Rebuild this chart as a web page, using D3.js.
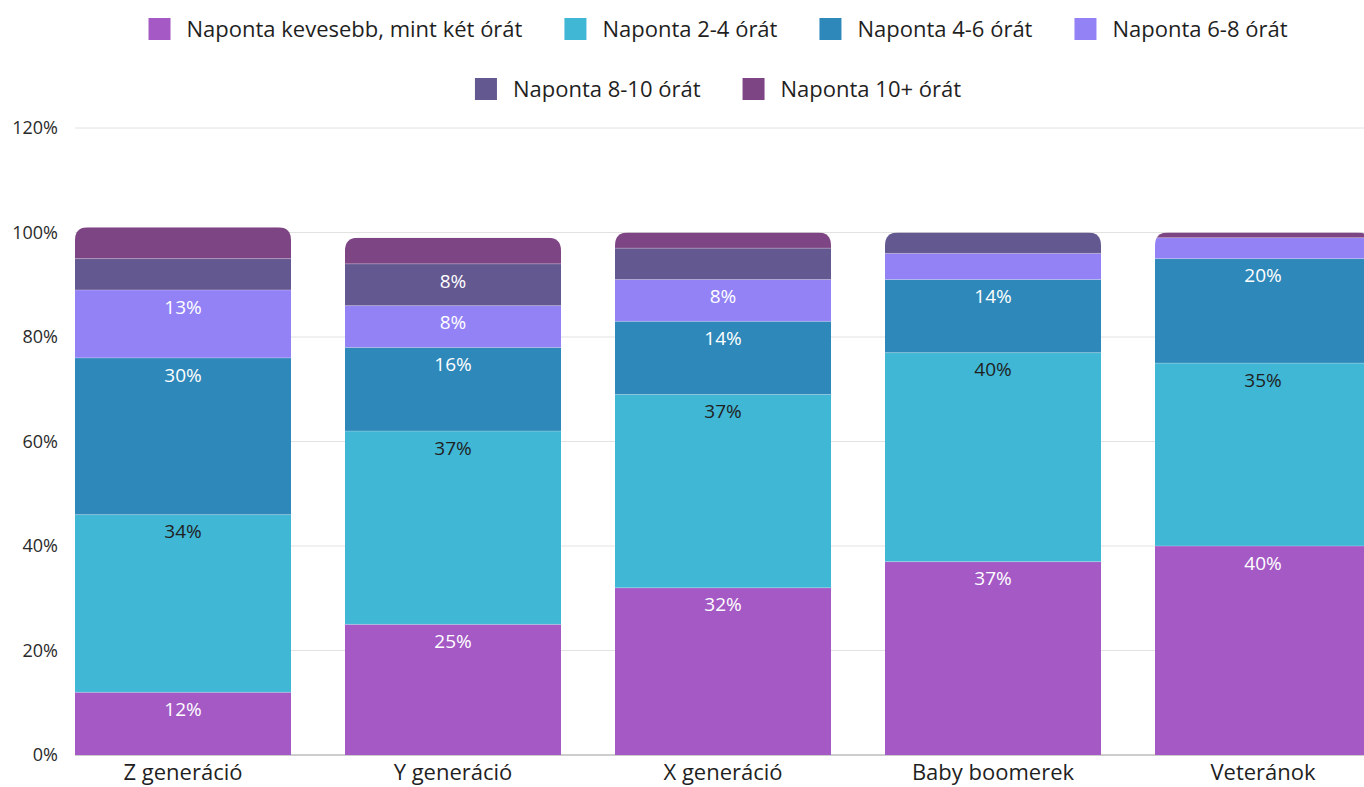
<!DOCTYPE html>
<html>
<head>
<meta charset="utf-8">
<script src="https://cdn.jsdelivr.net/npm/d3@7/dist/d3.min.js"></script>
<style>
  html, body { margin: 0; padding: 0; background: #fff; }
  svg { display: block; font-family: "Open Sans", "DejaVu Sans", sans-serif; }
</style>
</head>
<body>
<svg id="chart" width="1364" height="787"></svg>
<script>
// Generations on the x axis
const categories = ["Z generáció", "Y generáció", "X generáció", "Baby boomerek", "Veteránok"];

// Daily screen time bands (stack order, bottom to top)
const seriesNames = [
  "Naponta kevesebb, mint két órát",
  "Naponta 2-4 órát",
  "Naponta 4-6 órát",
  "Naponta 6-8 órát",
  "Naponta 8-10 órát",
  "Naponta 10+ órát"
];

// Percent values per band, one entry per generation
const lessThan2 = [12, 25, 32, 37, 40];
const hours2to4 = [34, 37, 37, 40, 35];
const hours4to6 = [30, 16, 14, 14, 20];
const hours6to8 = [13, 8, 8, 5, 4];
const hours8to10 = [6, 8, 6, 4, 0];
const hours10plus = [6, 5, 3, 0, 1];

const yTicks = [0, 20, 40, 60, 80, 100, 120];

const colors = ["#a459c5", "#40b7d5", "#2e88b9", "#9282f6", "#645890", "#7e4584"];
const labelColors = ["#ffffff", "#1f1f1f", "#ffffff", "#ffffff", "#ffffff", "#ffffff"];

const seriesValues = [lessThan2, hours2to4, hours4to6, hours6to8, hours8to10, hours10plus];

const rows = categories.map((c, i) => {
  const r = { category: c };
  seriesNames.forEach((s, k) => { r[s] = seriesValues[k][i]; });
  return r;
});

const stacked = d3.stack().keys(seriesNames)(rows);

const svg = d3.select("#chart");
const margin = { left: 75, top: 128, bottom: 755 };

const x = d3.scaleBand()
  .domain(categories)
  .range([margin.left, margin.left + 1296])
  .paddingInner(0.2)
  .paddingOuter(0);

const y = d3.scaleLinear()
  .domain([0, 120])
  .range([margin.bottom, margin.top]);

// Gridlines and y tick labels
const grid = svg.append("g");
grid.selectAll("line")
  .data(yTicks)
  .join("line")
  .attr("x1", margin.left)
  .attr("x2", 1371)
  .attr("y1", d => y(d))
  .attr("y2", d => y(d))
  .attr("stroke", d => d === 0 ? "#9a9a9a" : "#e2e2e2")
  .attr("stroke-width", 1);

const yAxis = d3.axisLeft(y).tickValues(yTicks).tickFormat(d => d + "%").tickSize(0).tickPadding(0);
const yg = svg.append("g").attr("transform", "translate(58,0)").call(yAxis);
yg.select(".domain").remove();
yg.selectAll("text")
  .attr("font-size", 18)
  .attr("fill", "#2a2a2a")
  .attr("font-family", "\"Open Sans\", sans-serif");

// Bars: a rounded-top clip per column, segments stacked inside
const radius = 13;
const defs = svg.append("defs");
categories.forEach((c, i) => {
  const top = y(d3.max(stacked, s => s[i][1]));
  const x0 = x(c), w = x.bandwidth(), b = y(0);
  const r = radius;
  defs.append("clipPath").attr("id", "clip" + i)
    .append("path")
    .attr("d", `M${x0},${b}V${top + r}Q${x0},${top} ${x0 + r},${top}H${x0 + w - r}Q${x0 + w},${top} ${x0 + w},${top + r}V${b}Z`);
});

const barG = svg.append("g");
stacked.forEach((layer, k) => {
  barG.append("g")
    .selectAll("rect")
    .data(layer.map((d, i) => ({ d, i })))
    .join("rect")
    .attr("clip-path", o => `url(#clip${o.i})`)
    .attr("x", o => x(categories[o.i]))
    .attr("width", x.bandwidth())
    .attr("y", o => y(o.d[1]))
    .attr("height", o => Math.max(0, y(o.d[0]) - y(o.d[1])))
    .attr("fill", colors[k]);
});

// Thin separators between segments
stacked.forEach((layer, k) => {
  if (k === 0) return;
  barG.append("g")
    .selectAll("line")
    .data(layer.map((d, i) => ({ d, i })).filter(o => o.d[1] - o.d[0] > 0))
    .join("line")
    .attr("x1", o => x(categories[o.i]))
    .attr("x2", o => x(categories[o.i]) + x.bandwidth())
    .attr("y1", o => y(o.d[0]))
    .attr("y2", o => y(o.d[0]))
    .attr("stroke", "rgba(255,255,255,0.25)")
    .attr("stroke-width", 1);
});

// Value labels near the top of each segment
const labelG = svg.append("g");
stacked.forEach((layer, k) => {
  labelG.append("g")
    .selectAll("text")
    .data(layer.map((d, i) => ({ d, i, v: seriesValues[k][i] })).filter(o => o.v >= 8))
    .join("text")
    .attr("x", o => x(categories[o.i]) + x.bandwidth() / 2)
    .attr("y", o => y(o.d[1]) + 17)
    .attr("dy", "0.35em")
    .attr("text-anchor", "middle")
    .attr("font-size", 19)
    .attr("fill", labelColors[k])
    .text(o => o.v + "%");
});

// Category labels
const xAxis = d3.axisBottom(x).tickSize(0).tickPadding(0);
const xg = svg.append("g").attr("transform", `translate(0,${y(0) + 17})`).call(xAxis);
xg.select(".domain").remove();
xg.selectAll("text")
  .attr("font-size", 22)
  .attr("fill", "#1f1f1f")
  .attr("dy", "0.35em")
  .attr("font-family", "\"Open Sans\", sans-serif");

// Legend, two centred rows
const legendRows = [seriesNames.slice(0, 4), seriesNames.slice(4)];
const legendY = [29, 89];
const centerX = 718;
legendRows.forEach((names, r) => {
  const g = svg.append("g");
  let cx = 0;
  names.forEach(name => {
    const k = seriesNames.indexOf(name);
    const item = g.append("g").attr("transform", `translate(${cx},0)`);
    item.append("rect")
      .attr("x", 0).attr("y", legendY[r] - 11)
      .attr("width", 22).attr("height", 22)
      .attr("fill", colors[k]);
    const t = item.append("text")
      .attr("x", 38).attr("y", legendY[r])
      .attr("dy", "0.35em")
      .attr("font-size", 22)
      .attr("fill", "#1f1f1f")
      .text(name);
    cx += 38 + t.node().getComputedTextLength() + 42;
  });
  const total = cx - 42;
  g.attr("transform", `translate(${centerX - total / 2},0)`);
});
</script>
</body>
</html>
